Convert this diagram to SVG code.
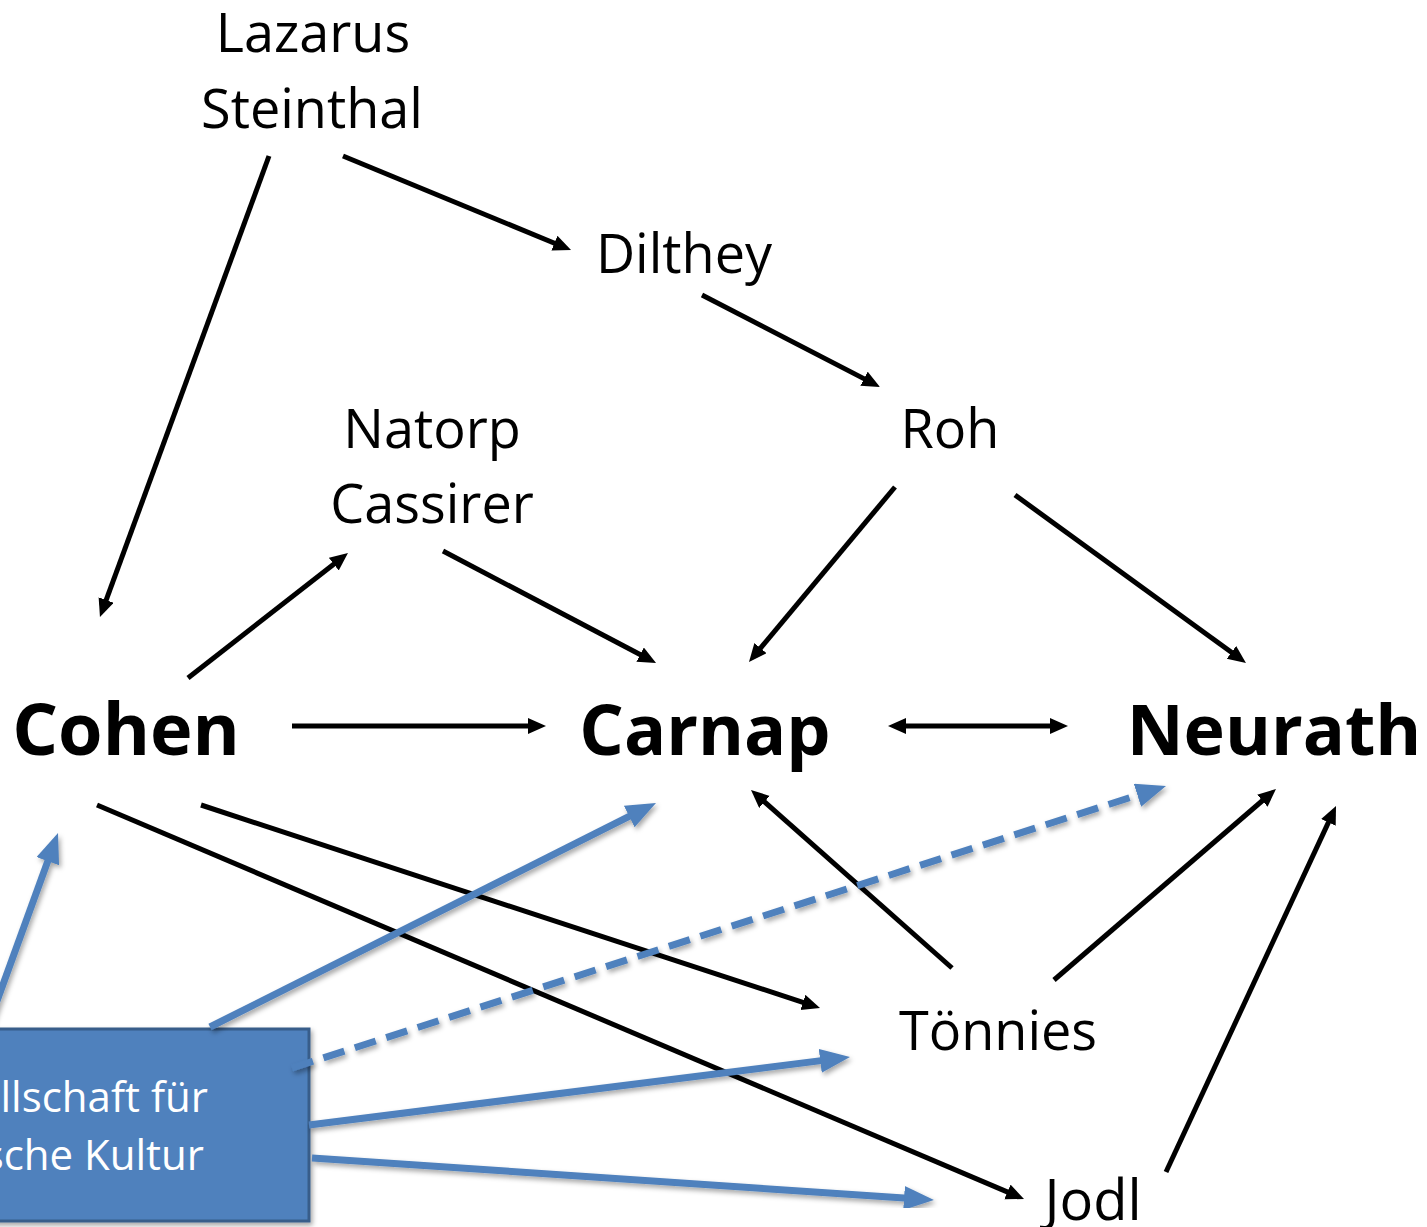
<svg xmlns="http://www.w3.org/2000/svg" width="1427" height="1227" viewBox="0 0 1427 1227">
<style>
.lbl{font-family:"Open Sans","Liberation Sans",sans-serif;font-size:54px;fill:#000;text-anchor:middle}
.big{font-family:"Open Sans","Liberation Sans",sans-serif;font-size:70px;font-weight:bold;fill:#000;text-anchor:middle}
.boxt{font-family:"Open Sans","Liberation Sans",sans-serif;font-size:42px;fill:#fff;text-anchor:end}
.k{stroke:#000;stroke-width:5;fill:none;marker-end:url(#ah)}
.b{stroke:#4f81bd;stroke-width:7;fill:none;marker-end:url(#bh);filter:url(#sh)}
</style>
<defs>
<marker id="ah" markerUnits="userSpaceOnUse" markerWidth="20" markerHeight="18" refX="8" refY="8" orient="auto-start-reverse" viewBox="0 0 20 18">
<path d="M0,0 L18,8 L0,16 z" fill="#000"/>
</marker>
<marker id="bh" markerUnits="userSpaceOnUse" markerWidth="32" markerHeight="26" refX="15" refY="12" orient="auto" viewBox="0 0 32 26">
<path d="M0,0 L30,12 L0,24 z" fill="#4f81bd"/>
</marker>
<filter id="sh" x="-20%" y="-20%" width="140%" height="140%">
<feDropShadow dx="2" dy="3" stdDeviation="2.5" flood-color="#000" flood-opacity="0.35"/>
</filter>
</defs>

<g id="node-gesellschaft">
<rect x="-20" y="1029" width="329" height="192" fill="#4f81bd" stroke="#385d8a" stroke-width="3" filter="url(#sh)"/>
<text class="boxt" x="208" y="1112">llschaft für</text>
<text class="boxt" x="204" y="1170">sche Kultur</text>
</g>

<g id="connectors">
<line class="k" x1="269" y1="156" x2="103.4" y2="607.6"/>
<line class="k" x1="343" y1="156" x2="561.8" y2="246.2"/>
<line class="k" x1="702" y1="295" x2="871.1" y2="382.4"/>
<line class="k" x1="188" y1="678" x2="340.1" y2="559.2"/>
<line class="k" x1="443" y1="551" x2="647.2" y2="658.3"/>
<line class="k" x1="895" y1="487" x2="755.4" y2="654.3"/>
<line class="k" x1="1015" y1="495" x2="1237.9" y2="657.1"/>
<line class="k" x1="292" y1="726" x2="536" y2="726"/>
<line class="k" x1="898" y1="726" x2="1058" y2="726" style="marker-start:url(#ah)"/>
<line class="k" x1="201" y1="805" x2="810.5" y2="1004.9"/>
<line class="k" x1="97" y1="805" x2="1014.8" y2="1195.1"/>
<line class="k" x1="952" y1="968" x2="758.5" y2="796.6"/>
<line class="k" x1="1054" y1="980" x2="1268.4" y2="795.5"/>
<line class="k" x1="1166" y1="1172" x2="1331.8" y2="815.1"/>
<line class="b" x1="-15" y1="1034" x2="52.9" y2="847.1"/>
<line class="b" x1="210" y1="1027" x2="642.6" y2="809.7"/>
<line class="b" x1="292" y1="1068" x2="1151.7" y2="790.6" stroke-dasharray="22 11"/>
<line class="b" x1="309" y1="1125" x2="835.1" y2="1058.9"/>
<line class="b" x1="312" y1="1158" x2="919" y2="1199"/>
</g>

<g id="node-lazarus-steinthal">
<text class="lbl" x="313" y="52">Lazarus</text>
<text class="lbl" x="312" y="128">Steinthal</text>
</g>
<g id="node-dilthey"><text class="lbl" x="684" y="273">Dilthey</text></g>
<g id="node-natorp-cassirer">
<text class="lbl" x="432" y="448">Natorp</text>
<text class="lbl" x="432" y="523">Cassirer</text>
</g>
<g id="node-roh"><text class="lbl" x="950" y="448">Roh</text></g>
<g id="node-cohen"><text class="big" x="126" y="755" style="font-size:72px">Cohen</text></g>
<g id="node-carnap"><text class="big" x="705" y="755">Carnap</text></g>
<g id="node-neurath"><text class="big" x="1274" y="755">Neurath</text></g>
<g id="node-tonnies"><text class="lbl" x="998" y="1050">Tönnies</text></g>
<g id="node-jodl"><text class="lbl" x="1093" y="1220" style="font-size:56px">Jodl</text></g>
</svg>
